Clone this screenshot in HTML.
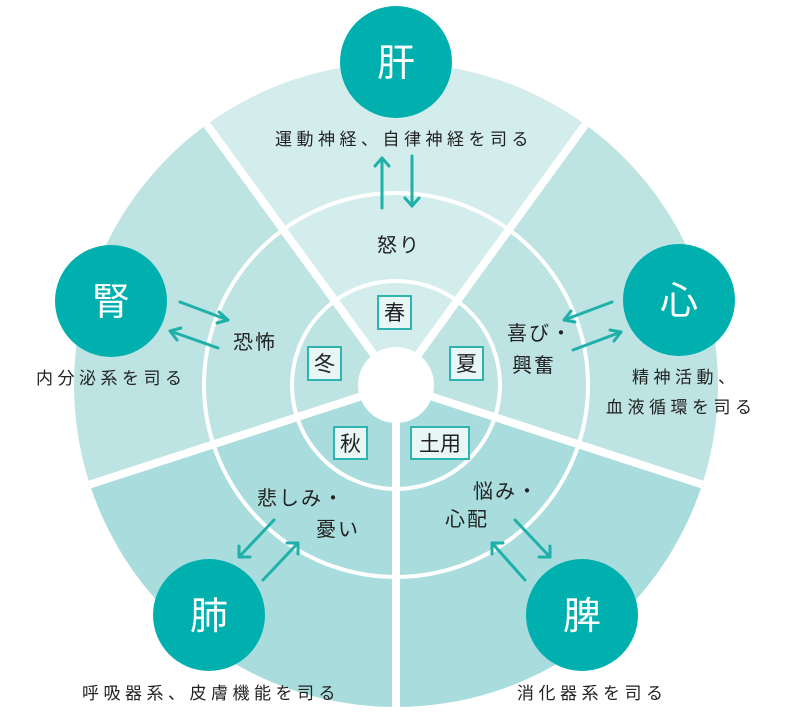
<!DOCTYPE html>
<html><head><meta charset="utf-8"><style>
html,body{margin:0;padding:0;background:#fff;}
svg{display:block;font-family:"Liberation Sans","Noto Sans CJK JP",sans-serif;}
.lb{font-size:17px;fill:#222;letter-spacing:4.5px;}
.em{font-size:20px;fill:#222;letter-spacing:2px;}
.org{font-size:38px;fill:#fff;}
.ss{font-size:21px;fill:#222;}
</style></head><body>
<svg width="800" height="717" viewBox="0 0 800 717" xmlns="http://www.w3.org/2000/svg">
<g>
<path d="M396 385 L206.7 124.5 A322 322 0 0 1 585.3 124.5 Z" fill="#d3ecec"/>
<path d="M396 385 L585.3 124.5 A322 322 0 0 1 702.2 484.5 Z" fill="#bde3e3"/>
<path d="M396 385 L702.2 484.5 A322 322 0 0 1 396 707 Z" fill="#a9dcdc"/>
<path d="M396 385 L396 707 A322 322 0 0 1 89.8 484.5 Z" fill="#a9dcdc"/>
<path d="M396 385 L89.8 484.5 A322 322 0 0 1 206.7 124.5 Z" fill="#bde3e3"/>
</g>
<circle cx="396" cy="385" r="192" fill="none" stroke="#fff" stroke-width="4"/>
<circle cx="396" cy="385" r="104" fill="none" stroke="#fff" stroke-width="4"/>
<g stroke="#fff" stroke-width="8">
<line x1="396" y1="385" x2="206.7" y2="124.5"/>
<line x1="396" y1="385" x2="585.3" y2="124.5"/>
<line x1="396" y1="385" x2="702.2" y2="484.5"/>
<line x1="396" y1="385" x2="396" y2="712"/>
<line x1="396" y1="385" x2="89.8" y2="484.5"/>
</g>
<circle cx="396" cy="385" r="38" fill="#fff"/>

<g fill="#e9f6f6" stroke="#2eb5b0" stroke-width="2">
<rect x="378" y="296" width="33" height="33"/>
<rect x="308" y="347" width="33" height="33"/>
<rect x="450" y="347" width="33" height="33"/>
<rect x="334" y="427" width="33" height="32"/>
<rect x="411" y="427" width="58" height="32"/>
</g>
<g class="ss" text-anchor="middle">
<text x="394.5" y="320">春</text>
<text x="324.5" y="371">冬</text>
<text x="466.5" y="371">夏</text>
<text x="350.5" y="451">秋</text>
<text x="440" y="451">土用</text>
</g>

<g fill="#00b0ae">
<circle cx="396" cy="62" r="56"/>
<circle cx="111" cy="301" r="56"/>
<circle cx="679" cy="300" r="56"/>
<circle cx="209" cy="615" r="56"/>
<circle cx="582" cy="615" r="56"/>
</g>
<g class="org" text-anchor="middle">
<text x="396" y="76">肝</text>
<text x="111" y="315">腎</text>
<text x="679" y="314">心</text>
<text x="209" y="629">肺</text>
<text x="582" y="629">脾</text>
</g>

<g class="lb">
<text x="275" y="145">運動神経、自律神経を司る</text>
<text x="36" y="384">内分泌系を司る</text>
<text x="632" y="383">精神活動、</text>
<text x="606" y="413">血液循環を司る</text>
<text x="82" y="699">呼吸器系、皮膚機能を司る</text>
<text x="517" y="699">消化器系を司る</text>
</g>
<g class="em">
<text x="377" y="252">怒り</text>
<text x="233" y="349">恐怖</text>
<text x="507" y="340">喜び・</text>
<text x="512" y="372">興奮</text>
<text x="257" y="505">悲しみ・</text>
<text x="316" y="536">憂い</text>
<text x="473" y="498">悩み・</text>
<text x="445" y="526">心配</text>
</g>

<g stroke="#1fb0aa" stroke-width="3" fill="none" stroke-linecap="round" stroke-linejoin="round">
<line x1="382" y1="208" x2="382" y2="158"/><polyline points="375,166 382,158 389,166"/>
<line x1="412" y1="156" x2="412" y2="206"/><polyline points="405,198 412,206 419,198"/>
<line x1="180" y1="302" x2="228" y2="320"/><polyline points="219,312 228,320 217,323"/>
<line x1="218" y1="348" x2="170" y2="331"/><polyline points="181,328 170,331 177,340"/>
<line x1="612" y1="302" x2="564" y2="320"/><polyline points="575,322 564,320 571,311"/>
<line x1="573" y1="350" x2="621" y2="332"/><polyline points="610,330 621,332 614,341"/>
<line x1="274" y1="520" x2="239" y2="557"/><polyline points="239,546 239,557 250,557"/>
<line x1="263" y1="580" x2="298" y2="543"/><polyline points="287,543 298,543 298,554"/>
<line x1="515" y1="520" x2="550" y2="557"/><polyline points="539,557 550,557 550,546"/>
<line x1="525" y1="580" x2="492" y2="543"/><polyline points="492,554 492,543 503,543"/>
</g>
</svg>
</body></html>
